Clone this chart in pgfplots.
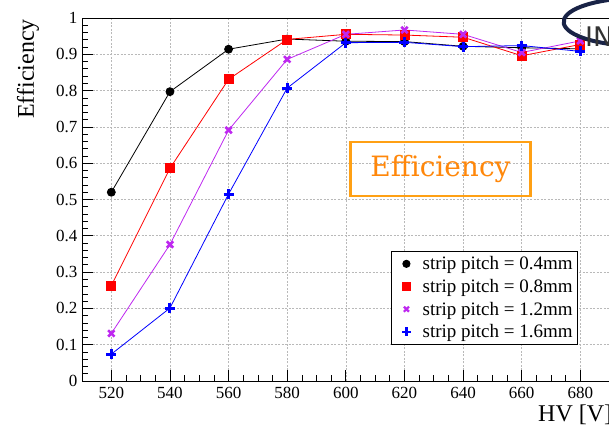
\documentclass[border=0pt]{standalone}
\usepackage{pgfplots}
\pgfplotsset{compat=1.18}
\usepackage{fontspec}
\setmainfont{Liberation Serif}
\newfontfamily\dejaserif{DejaVu Serif}
\newfontfamily\dejasans{DejaVu Sans}
\definecolor{mymag}{RGB}{190,40,240}
\definecolor{orgtxt}{RGB}{255,135,10}
\definecolor{orgbox}{RGB}{255,160,20}
\definecolor{logonavy}{RGB}{25,35,70}
\begin{document}
\begin{tikzpicture}[x=1pt,y=1pt]
\useasboundingbox (0,0) rectangle (609,435);
\clip (0,0) rectangle (609,435);
\begin{axis}[
  at={(82pt,54pt)}, anchor=south west,
  scale only axis, width=557pt, height=363pt,
  xmin=510, xmax=700, ymin=0, ymax=1,
  xtick={520,540,...,680}, ytick={0,0.1,...,1.01},
  extra x ticks={700}, extra x tick labels={},
  extra x tick style={grid=major},
  minor x tick num=3, minor y tick num=4,
  tick align=inside,
  xtick pos=bottom, ytick pos=left,
  major tick length=11pt, minor tick length=6pt,
  grid=major,
  major grid style={gray!55, dash pattern=on 2pt off 1.5pt, line width=0.6pt},
  axis line style={black, line width=0.9pt},
  every tick/.style={black, line width=0.7pt},
  tick label style={font=\fontsize{17}{17}\selectfont},
  /pgf/number format/assume math mode=true,
  yticklabel style={/pgf/number format/fixed, xshift=-1pt},
  xticklabel style={yshift=-3pt, /pgf/number format/set thousands separator={}},
  legend style={at={(rel axis cs:0.5548,0.358)}, anchor=north west,
    draw=black, line width=0.9pt, font=\fontsize{19}{22}\selectfont,
    row sep=4pt, inner xsep=3pt, inner ysep=3pt},
  legend image code/.code={\path[draw=none,fill=none] (0cm,0cm) -- (0.92cm,0cm); \draw[#1] plot coordinates {(0.42cm,0cm)};},
  legend cell align=left,
]
\addplot[black, line width=0.8pt, mark=*, mark size=4pt, forget plot] coordinates {
(520,0.520) (540,0.797) (560,0.914) (580,0.942) (600,0.936) (620,0.935) (640,0.922) (660,0.918) (680,0.915)};
\addplot[red, line width=0.8pt, mark=square*, mark size=4.5pt, forget plot] coordinates {
(520,0.263) (540,0.586) (560,0.831) (580,0.941) (600,0.955) (620,0.953) (640,0.947) (660,0.896) (680,0.927)};
\addplot[mymag, line width=0.8pt, mark=x, mark size=4.5pt, mark options={line width=2.6pt}, forget plot] coordinates {
(520,0.131) (540,0.376) (560,0.691) (580,0.886) (600,0.955) (620,0.967) (640,0.955) (660,0.905) (680,0.937)};
\addplot[blue, line width=0.8pt, mark=+, mark size=5pt, mark options={line width=3pt}, forget plot] coordinates {
(520,0.074) (540,0.201) (560,0.515) (580,0.807) (600,0.932) (620,0.933) (640,0.921) (660,0.924) (680,0.908)};
\addlegendimage{only marks, black, mark=*, mark size=3.6pt}
\addlegendentry{strip pitch = 0.4mm\hspace{21pt}}
\addlegendimage{only marks, red, mark=square*, mark size=4pt}
\addlegendentry{strip pitch = 0.8mm\hspace{21pt}}
\addlegendimage{only marks, mymag, mark=x, mark size=3.6pt, mark options={line width=2.2pt}}
\addlegendentry{strip pitch = 1.2mm\hspace{21pt}}
\addlegendimage{only marks, blue, mark=+, mark size=4.4pt, mark options={line width=2.6pt}}
\addlegendentry{strip pitch = 1.6mm\hspace{21pt}}
\end{axis}
% axis titles
\node[rotate=90, anchor=east, inner sep=0pt, font=\fontsize{24}{24}\selectfont] at (28,416) {Efficiency};
\node[anchor=west, inner sep=0pt, font=\fontsize{24}{24}\selectfont] at (538,20) {HV [V]};
% overlay annotation
\node[draw=orgbox, line width=2.6pt, text=orgtxt, minimum width=180pt, minimum height=54pt,
  inner sep=0pt, font=\dejaserif\fontsize{28}{28}\selectfont] at (440.5,266) {Efficiency};
% partial logo
\draw[logonavy, line width=4pt] (633,437) arc[start angle=95, end angle=265, x radius=76pt, y radius=24pt];
\node[anchor=west, inner sep=0pt, text=black!80, font=\dejasans\fontsize{27}{27}\selectfont] at (585,398) {IN};
\end{tikzpicture}
\end{document}
